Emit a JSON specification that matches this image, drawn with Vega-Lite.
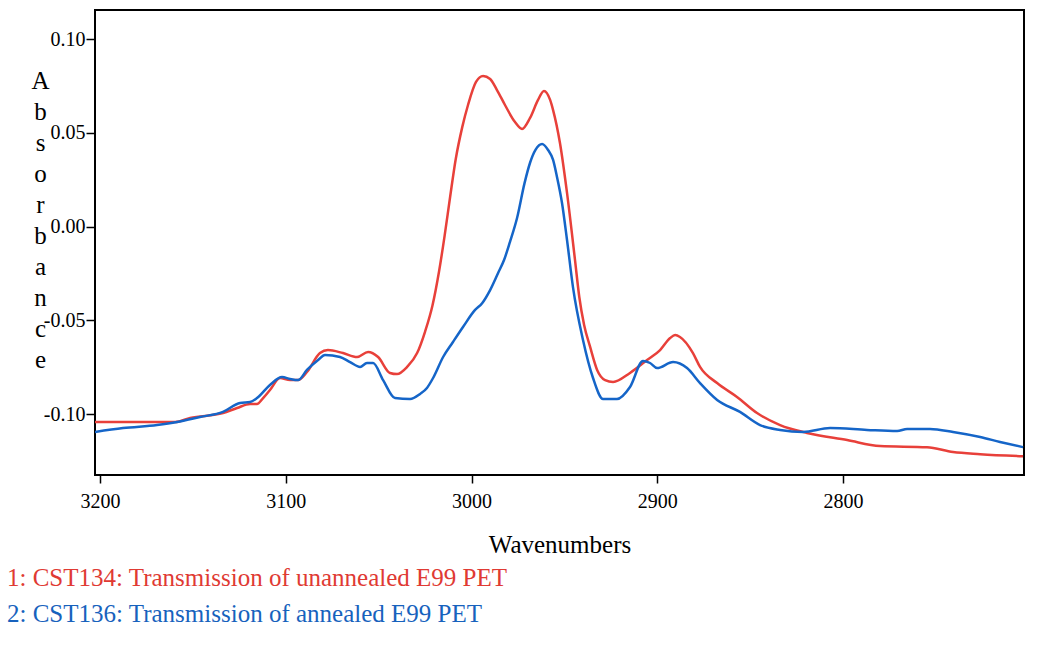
{
  "$schema": "https://vega.github.io/schema/vega-lite/v6.json",
  "autosize": {"type": "none"},
  "width": 929,
  "height": 465,
  "padding": {"left": 95, "top": 10, "right": 17, "bottom": 171},
  "background": "white",
  "config": {
    "view": {"stroke": "black", "strokeWidth": 2},
    "font": "Liberation Serif"
  },
  "title": {
    "text": "1: CST134: Transmission of unannealed E99 PET",
    "subtitle": "2: CST136: Transmission of annealed E99 PET",
    "orient": "bottom",
    "anchor": "start",
    "frame": "group",
    "dx": -88,
    "offset": 9,
    "font": "Liberation Serif",
    "subtitleFont": "Liberation Serif",
    "fontSize": 25,
    "subtitleFontSize": 25,
    "fontWeight": "normal",
    "color": "#e03a33",
    "subtitleColor": "#1762bd",
    "subtitlePadding": 11
  },
  "data": {
    "values": [
      {"w": 3202.7, "a": -0.1043, "s": "red"},
      {"w": 3183.8, "a": -0.1043, "s": "red"},
      {"w": 3159.6, "a": -0.1043, "s": "red"},
      {"w": 3151.5, "a": -0.1021, "s": "red"},
      {"w": 3133.8, "a": -0.0995, "s": "red"},
      {"w": 3126.2, "a": -0.0968, "s": "red"},
      {"w": 3119.2, "a": -0.0947, "s": "red"},
      {"w": 3115.5, "a": -0.0947, "s": "red"},
      {"w": 3112.2, "a": -0.0915, "s": "red"},
      {"w": 3108.5, "a": -0.0872, "s": "red"},
      {"w": 3103.1, "a": -0.0808, "s": "red"},
      {"w": 3097.7, "a": -0.0819, "s": "red"},
      {"w": 3093.4, "a": -0.0819, "s": "red"},
      {"w": 3088.6, "a": -0.0776, "s": "red"},
      {"w": 3081.6, "a": -0.0675, "s": "red"},
      {"w": 3077.3, "a": -0.0659, "s": "red"},
      {"w": 3069.2, "a": -0.0675, "s": "red"},
      {"w": 3061.6, "a": -0.0696, "s": "red"},
      {"w": 3055.7, "a": -0.0669, "s": "red"},
      {"w": 3050.3, "a": -0.0696, "s": "red"},
      {"w": 3043.9, "a": -0.0781, "s": "red"},
      {"w": 3040.1, "a": -0.0787, "s": "red"},
      {"w": 3034.7, "a": -0.0749, "s": "red"},
      {"w": 3029.3, "a": -0.0675, "s": "red"},
      {"w": 3025.0, "a": -0.0560, "s": "red"},
      {"w": 3021.0, "a": -0.0420, "s": "red"},
      {"w": 3017.5, "a": -0.0240, "s": "red"},
      {"w": 3014.5, "a": -0.0050, "s": "red"},
      {"w": 3011.5, "a": 0.0160, "s": "red"},
      {"w": 3008.5, "a": 0.0360, "s": "red"},
      {"w": 3005.0, "a": 0.0530, "s": "red"},
      {"w": 3001.9, "a": 0.0648, "s": "red"},
      {"w": 2997.6, "a": 0.0771, "s": "red"},
      {"w": 2993.8, "a": 0.0803, "s": "red"},
      {"w": 2990.0, "a": 0.0787, "s": "red"},
      {"w": 2986.3, "a": 0.0728, "s": "red"},
      {"w": 2982.0, "a": 0.0648, "s": "red"},
      {"w": 2976.6, "a": 0.0557, "s": "red"},
      {"w": 2972.8, "a": 0.0520, "s": "red"},
      {"w": 2968.5, "a": 0.0579, "s": "red"},
      {"w": 2964.2, "a": 0.0675, "s": "red"},
      {"w": 2961.0, "a": 0.0723, "s": "red"},
      {"w": 2957.7, "a": 0.0675, "s": "red"},
      {"w": 2956.1, "a": 0.0621, "s": "red"},
      {"w": 2952.4, "a": 0.0445, "s": "red"},
      {"w": 2948.6, "a": 0.0179, "s": "red"},
      {"w": 2944.3, "a": -0.0179, "s": "red"},
      {"w": 2942.0, "a": -0.0376, "s": "red"},
      {"w": 2939.4, "a": -0.0525, "s": "red"},
      {"w": 2936.2, "a": -0.0641, "s": "red"},
      {"w": 2932.4, "a": -0.0765, "s": "red"},
      {"w": 2928.1, "a": -0.0819, "s": "red"},
      {"w": 2923.8, "a": -0.0829, "s": "red"},
      {"w": 2914.7, "a": -0.0781, "s": "red"},
      {"w": 2905.5, "a": -0.0712, "s": "red"},
      {"w": 2898.5, "a": -0.0659, "s": "red"},
      {"w": 2893.1, "a": -0.0595, "s": "red"},
      {"w": 2890.4, "a": -0.0579, "s": "red"},
      {"w": 2887.8, "a": -0.0589, "s": "red"},
      {"w": 2880.8, "a": -0.0675, "s": "red"},
      {"w": 2877.0, "a": -0.0749, "s": "red"},
      {"w": 2867.8, "a": -0.0835, "s": "red"},
      {"w": 2857.1, "a": -0.0909, "s": "red"},
      {"w": 2846.3, "a": -0.0995, "s": "red"},
      {"w": 2833.9, "a": -0.1059, "s": "red"},
      {"w": 2819.4, "a": -0.1101, "s": "red"},
      {"w": 2797.8, "a": -0.1139, "s": "red"},
      {"w": 2780.1, "a": -0.1171, "s": "red"},
      {"w": 2754.8, "a": -0.1177, "s": "red"},
      {"w": 2740.8, "a": -0.1203, "s": "red"},
      {"w": 2726.2, "a": -0.1214, "s": "red"},
      {"w": 2703.1, "a": -0.1225, "s": "red"},
      {"w": 3202.7, "a": -0.1096, "s": "blue"},
      {"w": 3187.6, "a": -0.1075, "s": "blue"},
      {"w": 3169.3, "a": -0.1059, "s": "blue"},
      {"w": 3158.5, "a": -0.1043, "s": "blue"},
      {"w": 3146.2, "a": -0.1016, "s": "blue"},
      {"w": 3133.8, "a": -0.0989, "s": "blue"},
      {"w": 3124.6, "a": -0.0941, "s": "blue"},
      {"w": 3119.2, "a": -0.0936, "s": "blue"},
      {"w": 3115.5, "a": -0.0915, "s": "blue"},
      {"w": 3108.5, "a": -0.0845, "s": "blue"},
      {"w": 3102.0, "a": -0.0803, "s": "blue"},
      {"w": 3097.7, "a": -0.0813, "s": "blue"},
      {"w": 3093.4, "a": -0.0819, "s": "blue"},
      {"w": 3088.6, "a": -0.0765, "s": "blue"},
      {"w": 3082.6, "a": -0.0712, "s": "blue"},
      {"w": 3078.9, "a": -0.0685, "s": "blue"},
      {"w": 3070.8, "a": -0.0696, "s": "blue"},
      {"w": 3065.4, "a": -0.0723, "s": "blue"},
      {"w": 3060.0, "a": -0.0749, "s": "blue"},
      {"w": 3056.3, "a": -0.0728, "s": "blue"},
      {"w": 3053.0, "a": -0.0728, "s": "blue"},
      {"w": 3047.6, "a": -0.0819, "s": "blue"},
      {"w": 3041.2, "a": -0.0915, "s": "blue"},
      {"w": 3033.1, "a": -0.0920, "s": "blue"},
      {"w": 3027.7, "a": -0.0893, "s": "blue"},
      {"w": 3024.0, "a": -0.0861, "s": "blue"},
      {"w": 3020.7, "a": -0.0808, "s": "blue"},
      {"w": 3015.3, "a": -0.0696, "s": "blue"},
      {"w": 3010.0, "a": -0.0616, "s": "blue"},
      {"w": 3004.6, "a": -0.0536, "s": "blue"},
      {"w": 2998.1, "a": -0.0445, "s": "blue"},
      {"w": 2994.3, "a": -0.0409, "s": "blue"},
      {"w": 2990.0, "a": -0.0339, "s": "blue"},
      {"w": 2985.7, "a": -0.0248, "s": "blue"},
      {"w": 2982.5, "a": -0.0179, "s": "blue"},
      {"w": 2979.3, "a": -0.0082, "s": "blue"},
      {"w": 2975.5, "a": 0.0045, "s": "blue"},
      {"w": 2971.5, "a": 0.0230, "s": "blue"},
      {"w": 2968.5, "a": 0.0340, "s": "blue"},
      {"w": 2965.5, "a": 0.0410, "s": "blue"},
      {"w": 2962.0, "a": 0.0440, "s": "blue"},
      {"w": 2958.8, "a": 0.0408, "s": "blue"},
      {"w": 2956.1, "a": 0.0355, "s": "blue"},
      {"w": 2954.0, "a": 0.0264, "s": "blue"},
      {"w": 2951.3, "a": 0.0125, "s": "blue"},
      {"w": 2948.6, "a": -0.0072, "s": "blue"},
      {"w": 2945.4, "a": -0.0323, "s": "blue"},
      {"w": 2940.0, "a": -0.0605, "s": "blue"},
      {"w": 2934.6, "a": -0.0808, "s": "blue"},
      {"w": 2929.2, "a": -0.0920, "s": "blue"},
      {"w": 2921.7, "a": -0.0920, "s": "blue"},
      {"w": 2914.7, "a": -0.0856, "s": "blue"},
      {"w": 2907.7, "a": -0.0717, "s": "blue"},
      {"w": 2903.9, "a": -0.0728, "s": "blue"},
      {"w": 2900.1, "a": -0.0755, "s": "blue"},
      {"w": 2891.5, "a": -0.0723, "s": "blue"},
      {"w": 2884.0, "a": -0.0755, "s": "blue"},
      {"w": 2877.0, "a": -0.0835, "s": "blue"},
      {"w": 2867.8, "a": -0.0925, "s": "blue"},
      {"w": 2855.5, "a": -0.0989, "s": "blue"},
      {"w": 2844.7, "a": -0.1059, "s": "blue"},
      {"w": 2833.9, "a": -0.1085, "s": "blue"},
      {"w": 2821.5, "a": -0.1096, "s": "blue"},
      {"w": 2807.0, "a": -0.1075, "s": "blue"},
      {"w": 2787.1, "a": -0.1085, "s": "blue"},
      {"w": 2770.9, "a": -0.1091, "s": "blue"},
      {"w": 2765.5, "a": -0.1080, "s": "blue"},
      {"w": 2753.2, "a": -0.1080, "s": "blue"},
      {"w": 2740.8, "a": -0.1096, "s": "blue"},
      {"w": 2726.2, "a": -0.1123, "s": "blue"},
      {"w": 2715.5, "a": -0.1149, "s": "blue"},
      {"w": 2703.1, "a": -0.1177, "s": "blue"}
    ]
  },
  "mark": {"type": "line", "strokeWidth": 2.5, "interpolate": "monotone", "clip": true},
  "encoding": {
    "x": {
      "field": "w",
      "type": "quantitative",
      "scale": {"domain": [2702.6, 3202.7], "reverse": true, "nice": false, "zero": false},
      "axis": {
        "title": "Wavenumbers",
        "values": [3200, 3100, 3000, 2900, 2800],
        "format": "d",
        "grid": false,
        "domain": false,
        "tickColor": "black",
        "tickSize": 8,
        "tickWidth": 1.5,
        "labelFont": "Liberation Serif",
        "labelFontSize": 20,
        "labelColor": "black",
        "labelPadding": 8,
        "titleFont": "Liberation Serif",
        "titleFontSize": 25,
        "titleFontWeight": "normal",
        "titleColor": "black",
        "titlePadding": 21
      }
    },
    "y": {
      "field": "a",
      "type": "quantitative",
      "scale": {"domain": [-0.13253, 0.11547], "nice": false, "zero": false},
      "axis": {
        "title": ["A", "b", "s", "o", "r", "b", "a", "n", "c", "e"],
        "values": [-0.1, -0.05, 0, 0.05, 0.1],
        "labelExpr": "replace(format(datum.value, '.2f'), '\u2212', '-')",
        "grid": false,
        "domain": false,
        "tickColor": "black",
        "tickSize": 9,
        "tickWidth": 1.5,
        "labelFont": "Liberation Serif",
        "labelFontSize": 20,
        "labelColor": "black",
        "labelPadding": 1,
        "titleFont": "Liberation Serif",
        "titleFontSize": 25,
        "titleFontWeight": "normal",
        "titleColor": "black",
        "titleAngle": 0,
        "titleAlign": "center",
        "titleBaseline": "top",
        "titleX": -55,
        "titleY": 58,
        "titleLineHeight": 31
      }
    },
    "color": {
      "field": "s",
      "type": "nominal",
      "scale": {"domain": ["blue", "red"], "range": ["#1565c8", "#e8403a"]},
      "legend": null
    }
  }
}
